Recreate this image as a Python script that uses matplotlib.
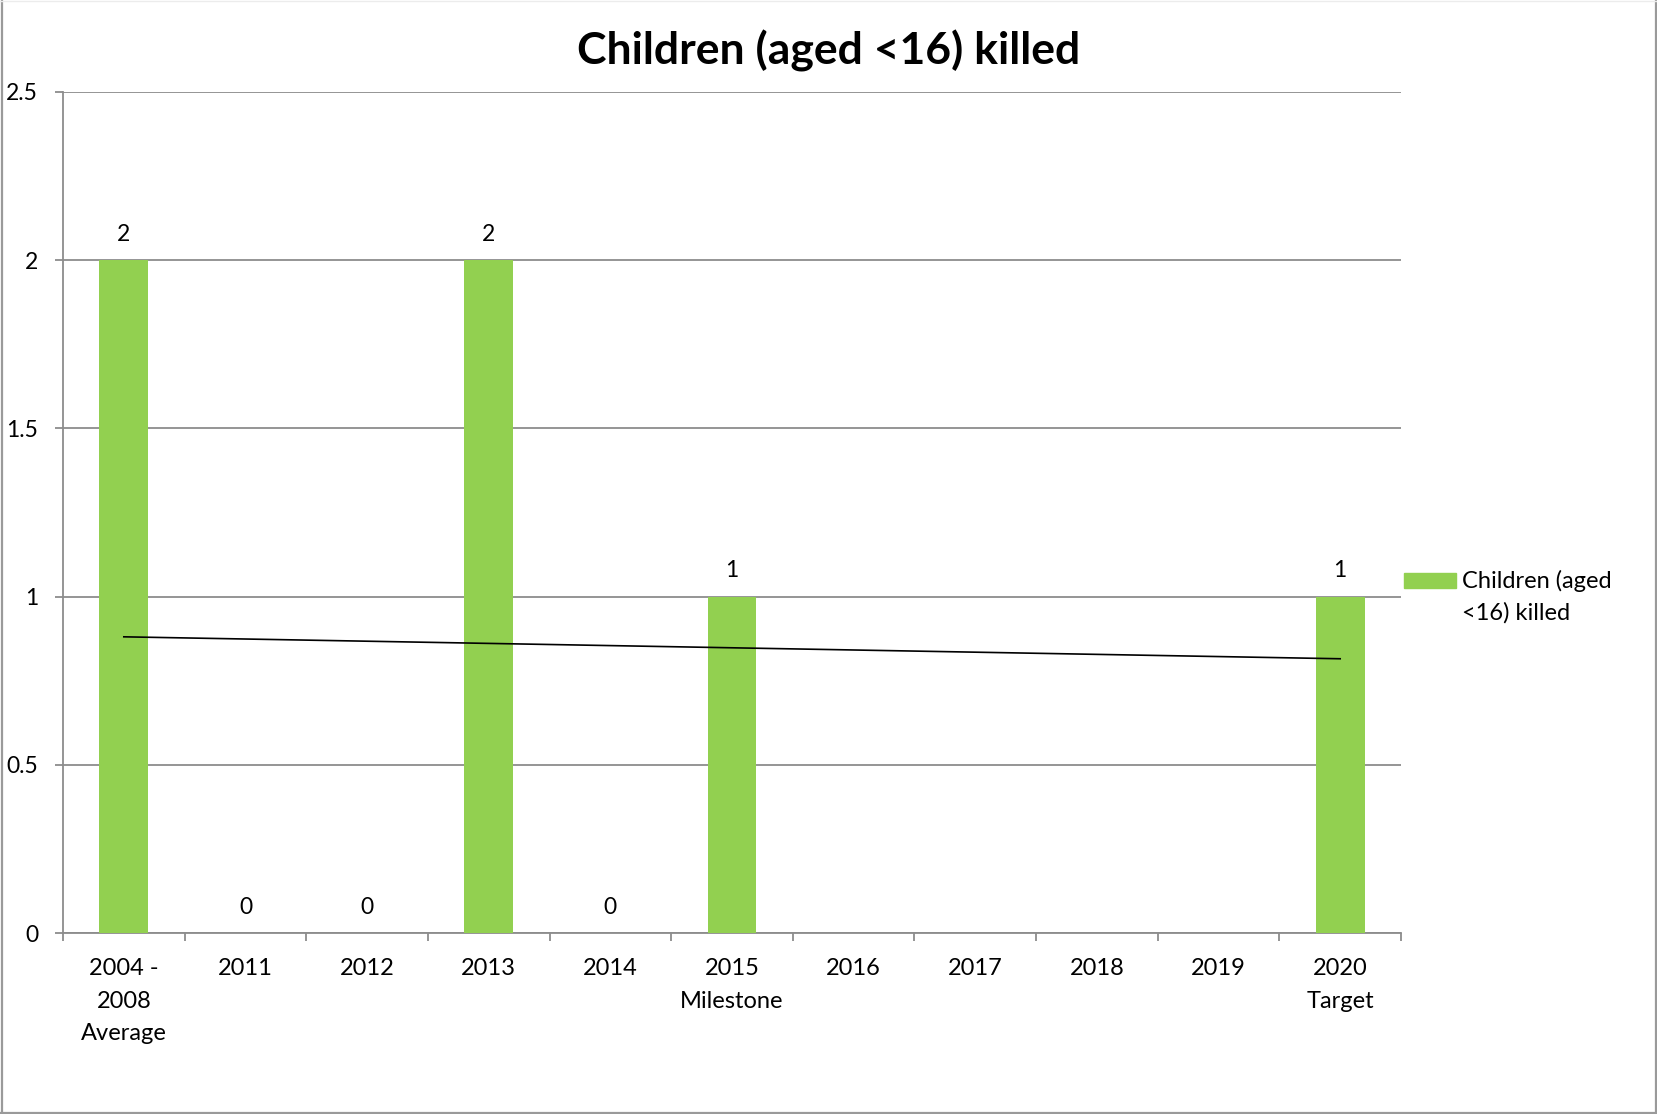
import numpy as np
import matplotlib
matplotlib.use("Agg")
import matplotlib.pyplot as plt
from matplotlib.lines import Line2D
from matplotlib.patches import Rectangle

plt.rcParams['font.family'] = ['Lato', 'DejaVu Sans']

# Data
categories = ["2004 -\n2008\nAverage", "2011", "2012", "2013", "2014",
              "2015\nMilestone", "2016", "2017", "2018", "2019", "2020\nTarget"]
killed = [2, 0, 0, 2, 0, 1, np.nan, np.nan, np.nan, np.nan, 1]
series_name = ["Children (aged", "<16) killed"]
title = "Children (aged <16) killed"
yticks = [0, 0.5, 1, 1.5, 2, 2.5]
ytick_labels = ["0", "0.5", "1", "1.5", "2", "2.5"]

W, H = 1657, 1114
fig = plt.figure(figsize=(W / 100, H / 100), dpi=100)
ax = fig.add_axes([63 / W, 1 - 933 / H, (1401 - 63) / W, (933 - 92) / H])

bar_color = "#92d050"
grid_color = "#8c8c8c"

x = np.arange(len(categories))
vals = np.array(killed, dtype=float)
ax.bar(x, np.nan_to_num(vals), width=0.4, color=bar_color, zorder=3)

# Value labels above each bar
for xi, v in zip(x, vals):
    if np.isnan(v):
        continue
    ax.annotate(f"{v:g}", (xi, v), xytext=(0, 11), textcoords="offset points",
                ha="center", va="bottom", fontsize=16.5, color="black", zorder=4)

# Linear trendline through the available points
mask = ~np.isnan(vals)
slope, intercept = np.polyfit(x[mask], vals[mask], 1)
ax.plot([x[0], x[-1]], [intercept + slope * x[0], intercept + slope * x[-1]],
        color="black", lw=1.2, zorder=5)

ax.set_xlim(-0.5, len(categories) - 0.5)
ax.set_ylim(0, 2.5)
ax.set_yticks(yticks)
ax.set_yticklabels(ytick_labels)
ax.yaxis.grid(True, color=grid_color, lw=1.3, zorder=0)
ax.set_axisbelow(True)

ax.set_xticks(x)
ax.set_xticklabels(categories, fontsize=17, linespacing=1.68)
ax.set_xticks(np.arange(-0.5, len(categories)), minor=True)
ax.tick_params(axis="x", which="major", length=0, pad=18)
ax.tick_params(axis="x", which="minor", length=6, width=1.3, color=grid_color,
               direction="out")
ax.tick_params(axis="y", length=6, width=1.3, color=grid_color, pad=12,
               labelsize=16.5)

for side in ("top", "right"):
    ax.spines[side].set_visible(False)
for side in ("left", "bottom"):
    ax.spines[side].set_color(grid_color)
    ax.spines[side].set_linewidth(1.3)

fig.text(829 / W, 1 - 65 / H, title, ha="center", va="baseline",
         fontsize=32, fontweight="bold")

# Legend
fig.patches.append(Rectangle((1404 / W, 1 - 588 / H), 52 / W, 15 / H,
                             transform=fig.transFigure, color=bar_color))
fig.text(1462 / W, 1 - 588 / H, series_name[0], ha="left", va="baseline",
         fontsize=17)
fig.text(1462 / W, 1 - 620 / H, series_name[1], ha="left", va="baseline",
         fontsize=17)

# Outer frame
frame_kw = dict(transform=fig.transFigure, color="#9a9a9a", lw=1.6)
fig.add_artist(Line2D([1.5 / W, 1.5 / W], [0, 1], **frame_kw))
fig.add_artist(Line2D([1 - 1.5 / W, 1 - 1.5 / W], [0, 1], **frame_kw))
fig.add_artist(Line2D([0, 1], [1.5 / H, 1.5 / H], **frame_kw))
fig.add_artist(Line2D([0, 1], [1 - 0.5 / H, 1 - 0.5 / H],
                      transform=fig.transFigure, color="#ececec", lw=1))

fig.savefig("out.png", dpi=100)
